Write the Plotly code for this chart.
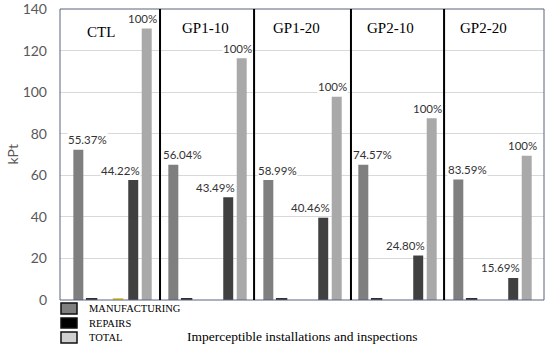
import plotly.graph_objects as go

# ---- data ----
panels = ["CTL", "GP1-10", "GP1-20", "GP2-10", "GP2-20"]
manufacturing = [72.3, 65.1, 57.7, 65.1, 58.0]
repairs = [57.7, 49.5, 39.6, 21.4, 10.6]
total = [130.6, 116.3, 97.8, 87.4, 69.4]
manuf_pct = ["55.37%", "56.04%", "58.99%", "74.57%", "83.59%"]
repairs_pct = ["44.22%", "43.49%", "40.46%", "24.80%", "15.69%"]
total_pct = ["100%", "100%", "100%", "100%", "100%"]
stub_vals = [0.7, 0.7, 0.7, 0.7, 0.7]
yellow_stub = [0.5]
y_ticks = [0, 20, 40, 60, 80, 100, 120, 140]
legend_items = ["MANUFACTURING", "REPAIRS", "TOTAL"]

# ---- layout helpers (positions within each panel) ----
OFF_M, OFF_STUB, OFF_Y, OFF_R, OFF_T = 0.0, 0.14, 0.418, 0.578, 0.72
TITLE_OFF = [0.24, 0.34, 0.30, 0.285, 0.27]
BW = 0.105
idx = list(range(len(panels)))

C_M, C_R, C_T = "#7f7f7f", "#404040", "#a9a9a9"

fig = go.Figure()
fig.add_bar(x=[i + OFF_M for i in idx], y=manufacturing, width=BW,
            marker=dict(color=C_M, line_width=0), name="MANUFACTURING")
fig.add_bar(x=[i + OFF_STUB for i in idx], y=stub_vals, width=0.12,
            marker=dict(color="#303030", line_width=0), name="stub")
fig.add_bar(x=[0 + OFF_Y], y=yellow_stub, width=0.11,
            marker=dict(color="#e2cc4a", line_width=0), name="stub2")
fig.add_bar(x=[i + OFF_R for i in idx], y=repairs, width=BW,
            marker=dict(color=C_R, line_width=0), name="REPAIRS")
fig.add_bar(x=[i + OFF_T for i in idx], y=total, width=BW,
            marker=dict(color=C_T, line_width=0), name="TOTAL")

annotations = []
lab_font = dict(family="Lato", size=11.5, color="#333333")
for i in idx:
    annotations.append(dict(x=i + OFF_M, y=manufacturing[i], text=manuf_pct[i],
                            showarrow=False, xanchor="center", yanchor="middle",
                            xshift=9, yshift=10, font=lab_font, bgcolor="white",
                            borderpad=0))
    annotations.append(dict(x=i + OFF_R, y=repairs[i], text=repairs_pct[i],
                            showarrow=False, xanchor="center", yanchor="middle",
                            xshift=-13, yshift=10, font=lab_font, bgcolor="white",
                            borderpad=0))
    annotations.append(dict(x=i + OFF_T, y=total[i], text=total_pct[i],
                            showarrow=False, xanchor="center", yanchor="middle",
                            xshift=-4, yshift=10, font=lab_font, bgcolor="white",
                            borderpad=0))
    annotations.append(dict(x=i + TITLE_OFF[i], y=0.921 if i == 0 else 0.935, yref="paper",
                            text=panels[i], showarrow=False, xanchor="center",
                            yanchor="middle",
                            font=dict(family="Liberation Serif", size=15, color="black")))

# y-axis title
annotations.append(dict(x=-0.099, y=0.5, xref="paper", yref="paper", text="kPt",
                        textangle=-90, showarrow=False, xanchor="center", yanchor="middle",
                        font=dict(family="Lato", size=14, color="#595959")))
# x-axis title
annotations.append(dict(x=0.5, y=-0.124, xref="paper", yref="paper",
                        text="Imperceptible installations and inspections",
                        showarrow=False, xanchor="center", yanchor="middle",
                        font=dict(family="Liberation Serif", size=13.5, color="black")))

shapes = []
# plot border
shapes.append(dict(type="rect", xref="paper", yref="paper", x0=0, x1=1, y0=0, y1=1,
                   line=dict(color="#56657d", width=1), layer="above"))
# panel dividers
for xd in [0.86, 1.85, 2.87, 3.85]:
    shapes.append(dict(type="line", xref="x", yref="paper", x0=xd, x1=xd, y0=0, y1=1,
                       line=dict(color="black", width=2), layer="above"))

# manual legend
leg_fill = ["#7f7f7f", "#000000", "#d0d0d0"]
leg_y = [(303, 314), (318, 328), (332, 343)]
for name, fc, (ya, yb) in zip(legend_items, leg_fill, leg_y):
    shapes.append(dict(type="rect", xref="paper", yref="paper",
                       x0=1 / 484, x1=17 / 484, y0=(300 - ya) / 291, y1=(300 - yb) / 291,
                       fillcolor=fc, line=dict(color="#111111", width=1.5)))
    annotations.append(dict(x=27 / 484, y=(300 - (ya + yb) / 2) / 291, xref="paper",
                            yref="paper", text=name, showarrow=False, xanchor="left",
                            yanchor="middle",
                            font=dict(family="Liberation Serif", size=10.5, color="black")))

fig.update_layout(
    width=550, height=350,
    margin=dict(l=60, r=6, t=9, b=50, autoexpand=False),
    paper_bgcolor="white", plot_bgcolor="white",
    showlegend=False, barmode="overlay",
    xaxis=dict(range=[-0.193, 4.902], showticklabels=False, showgrid=False,
               zeroline=False, ticks="", fixedrange=True, automargin=False),
    yaxis=dict(range=[0, 140.02], tickvals=y_ticks, showgrid=True, gridcolor="#d9d9d9",
               gridwidth=1, zeroline=False, ticks="", ticklabelstandoff=12,
               ticklabeloverflow="allow", automargin=False,
               tickfont=dict(family="Lato", size=14, color="#595959")),
    annotations=annotations, shapes=shapes,
)

fig.write_html("out.html", config={"displayModeBar": False},
               post_script="document.body.style.margin='0';document.body.style.overflow='hidden';")
